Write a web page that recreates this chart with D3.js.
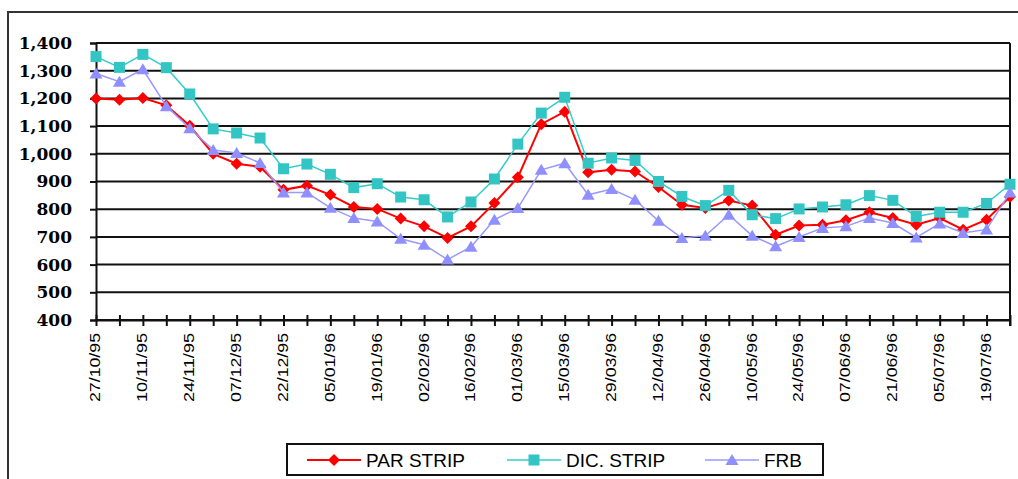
<!DOCTYPE html>
<html>
<head>
<meta charset="utf-8">
<script src="https://cdn.jsdelivr.net/npm/d3@7"></script>
<style>
  html, body { margin: 0; padding: 0; background: #fff; }
  svg { display: block; }
</style>
</head>
<body>
<svg id="chart" width="1018" height="479"></svg>
<script>
// Weekly quotes, 27/10/95 to 26/07/96
const dates = [
  "27/10/95","03/11/95","10/11/95","17/11/95","24/11/95","01/12/95","07/12/95","15/12/95",
  "22/12/95","29/12/95","05/01/96","12/01/96","19/01/96","26/01/96","02/02/96","09/02/96",
  "16/02/96","23/02/96","01/03/96","08/03/96","15/03/96","22/03/96","29/03/96","05/04/96",
  "12/04/96","19/04/96","26/04/96","03/05/96","10/05/96","17/05/96","24/05/96","31/05/96",
  "07/06/96","14/06/96","21/06/96","28/06/96","05/07/96","12/07/96","19/07/96","26/07/96"
];
const parStrip = [1200,1195,1201,1175,1101,1000,964,953,870,885,852,808,801,766,738,696,
  738,822,915,1107,1152,933,942,936,880,816,804,831,813,708,741,744,760,789,768,744,768,726,762,845];
const dicStrip = [1351,1312,1359,1311,1216,1090,1075,1057,946,963,926,878,892,844,834,772,
  826,909,1035,1147,1204,966,985,976,900,846,813,868,780,766,801,808,816,849,832,774,789,789,821,890];
const frb = [1290,1260,1305,1172,1092,1014,1003,967,860,860,805,768,756,693,672,618,
  664,762,804,942,966,852,873,834,758,696,704,780,704,666,700,732,738,768,750,698,748,714,727,860];
const yTicks = [400,500,600,700,800,900,1000,1100,1200,1300,1400];
const seriesNames = ["PAR STRIP","DIC. STRIP","FRB"];

const svg = d3.select("#chart");

// outer frame
svg.append("path")
  .attr("d","M8,480 L8,12 L1020,12")
  .attr("fill","none").attr("stroke","#333").attr("stroke-width",2);

const plotLeft = 96, plotRight = 1010, plotTop = 43, plotBottom = 320;
const x = d3.scalePoint().domain(dates).range([plotLeft, plotRight]);
const y = d3.scaleLinear().domain([400, 1400]).range([plotBottom, plotTop]);

// horizontal gridlines
svg.append("g").selectAll("line").data(yTicks).join("line")
  .attr("x1", plotLeft).attr("x2", plotRight)
  .attr("y1", d => y(d)).attr("y2", d => y(d))
  .attr("stroke","#111").attr("stroke-width",2);

// right border of plot area
svg.append("line")
  .attr("x1", plotRight).attr("x2", plotRight).attr("y1", plotTop).attr("y2", plotBottom + 6)
  .attr("stroke","#111").attr("stroke-width",2);

// y axis
const yAxis = svg.append("g")
  .attr("transform", `translate(${plotLeft},0)`)
  .call(d3.axisLeft(y).tickValues(yTicks).tickSize(6).tickFormat(d3.format(",")));
yAxis.select(".domain").attr("stroke","#111").attr("stroke-width",2);
yAxis.selectAll(".tick line").attr("stroke","#111").attr("stroke-width",2);
yAxis.selectAll(".tick text")
  .attr("x", -24)
  .attr("fill","#000")
  .style("font-family","'DejaVu Serif', serif")
  .style("font-weight","bold")
  .style("font-size","17px");

// x axis
const xAxis = svg.append("g")
  .attr("transform", `translate(0,${plotBottom})`)
  .call(d3.axisBottom(x).tickSizeInner(6).tickSizeOuter(0)
    .tickFormat((d, i) => i % 2 === 0 ? d : ""));
xAxis.select(".domain").attr("stroke","#111").attr("stroke-width",2);
xAxis.selectAll(".tick line").attr("y1",-5).attr("y2",6)
  .attr("stroke","#111").attr("stroke-width",2);
xAxis.selectAll(".tick text")
  .attr("transform","rotate(-90)")
  .attr("x", -13).attr("y", -1).attr("dy","0.35em")
  .attr("text-anchor","end")
  .attr("fill","#000")
  .style("font-family","'Liberation Sans', Arial, sans-serif")
  .style("font-size","14px")
  .each(function() {
    if (this.textContent) {
      d3.select(this).attr("textLength", 69).attr("lengthAdjust","spacingAndGlyphs");
    }
  });

// marker shapes
const markerPaths = {
  diamond: "M0,-6L6,0L0,6L-6,0Z",
  square: "M-5.5,-5.5H5.5V5.5H-5.5Z",
  triangle: "M0,-6L6.5,5L-6.5,5Z"
};

const series = [
  { name: seriesNames[0], values: parStrip, color: "#ff0000", fill: "#ff0000", width: 2, marker: "diamond" },
  { name: seriesNames[1], values: dicStrip, color: "#33cccc", fill: "#33c4c4", width: 1.5, marker: "square" },
  { name: seriesNames[2], values: frb, color: "#9999ff", fill: "#8f8fff", width: 1.5, marker: "triangle" }
];

const line = d3.line().x((d, i) => x(dates[i])).y(d => y(d));

series.forEach(s => {
  const g = svg.append("g");
  g.append("path").datum(s.values)
    .attr("d", line)
    .attr("fill","none").attr("stroke", s.color).attr("stroke-width", s.width);
  g.selectAll("path.m").data(s.values).join("path")
    .attr("class","m")
    .attr("d", markerPaths[s.marker])
    .attr("transform", (d, i) => `translate(${x(dates[i])},${y(d)})`)
    .attr("fill", s.fill);
});

// legend
const legend = svg.append("g");
legend.append("rect")
  .attr("x",287).attr("y",444).attr("width",536).attr("height",31)
  .attr("fill","#fff").attr("stroke","#111").attr("stroke-width",2);
const legendX = [307, 507, 705];
series.forEach((s, i) => {
  const lx = legendX[i], ly = 460;
  legend.append("line")
    .attr("x1", lx).attr("x2", lx + 54).attr("y1", ly).attr("y2", ly)
    .attr("stroke", s.color).attr("stroke-width", s.width);
  legend.append("path")
    .attr("d", markerPaths[s.marker])
    .attr("transform", `translate(${lx + 27},${ly})`)
    .attr("fill", s.fill);
  legend.append("text")
    .attr("x", lx + 59).attr("y", ly).attr("dy","0.36em")
    .attr("fill","#000")
    .style("font-family","'Liberation Sans', Arial, sans-serif")
    .style("font-size","19px")
    .text(s.name);
});
</script>
</body>
</html>
